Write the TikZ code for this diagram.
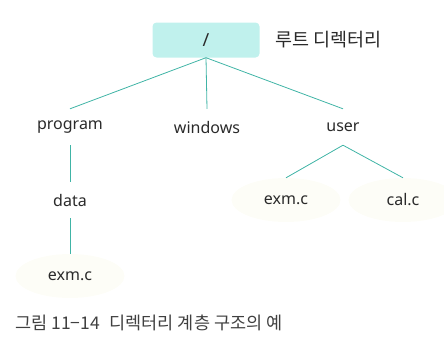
\documentclass[tikz,border=0pt]{standalone}
\usepackage{fontspec}
\setmainfont{Noto Sans}
\newfontfamily\krfont{Noto Sans CJK KR}
\usetikzlibrary{shapes.geometric}
\definecolor{rootfill}{HTML}{C0F1ED}
\definecolor{treeline}{HTML}{40B4A6}
\definecolor{filefill}{HTML}{FDFDF7}
\definecolor{textgray}{HTML}{2A2A2A}
\begin{document}
\begin{tikzpicture}[x=1pt, y=-1pt, font=\fontsize{16}{19}\selectfont, text=textgray,
	root style/.style={rectangle, fill=rootfill, rounded corners=4pt, minimum width=107pt, minimum height=35pt, inner sep=0pt, font=\fontsize{18}{20}\selectfont},
	dir style/.style={rectangle, minimum height=36pt, inner sep=0pt},
	file style/.style={ellipse, fill=filefill, minimum width=109pt, minimum height=44pt, inner sep=0pt},
	kr style/.style={font=\krfont\fontsize{18.5}{22}\selectfont, inner sep=0pt},
	edge style/.style={draw=treeline, line width=0.8pt}]
	\clip (0,0) rectangle (444,348);
	\useasboundingbox (0,0) rectangle (444,348);
	\node[root style] (D1) at (206, 40) {/};
	\node[kr style, anchor=west] (R) at (275, 40) {루트 디렉터리};
	\node[dir style] (D2) at (70, 127) {program};
	\node[dir style] (D3) at (207, 127) {windows};
	\node[dir style] (D4) at (343, 127) {user};
	\node[dir style] (D5) at (70, 200) {data};
	\node[file style] (F1) at (70, 276) {exm.c};
	\node[file style] (F2) at (286, 200) {exm.c};
	\node[file style] (F3) at (403, 200) {cal.c};
	\node[kr style, font=\krfont\fontsize{17.5}{21}\selectfont, anchor=west, text=black!75] (C) at (15, 323) {그림 11−14\,\, 디렉터리 계층 구조의 예};
	\foreach \x in {2,...,4}
	\draw[edge style] (D1.south) -- (D\x.north);
	\draw[edge style] (D2) -- (D5);
	\draw[edge style] (D5) -- (F1);
	\draw[edge style] (D4.south) -- (F2.north);
	\draw[edge style] (D4.south) -- (F3.north);
\end{tikzpicture}
\end{document}
